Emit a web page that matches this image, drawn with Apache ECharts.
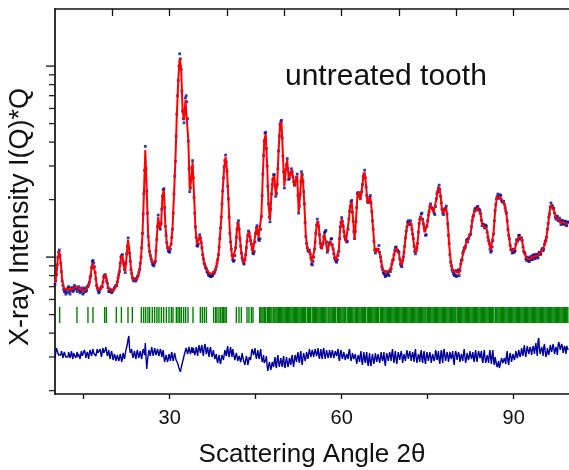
<!DOCTYPE html>
<html>
<head>
<meta charset="utf-8">
<script src="https://cdn.jsdelivr.net/npm/echarts@6/dist/echarts.min.js"></script>
<style>html,body{margin:0;padding:0;background:#fff}#c{width:569px;height:470px}</style>
</head>
<body>
<div id="c"></div>
<script>
// 2-theta grid of the pattern (degrees)
const angleStart = 10;
const angleStep = 0.25;

// calculated profile (red line), one row per degree
const calcValues = [
0.731,0.805,0.988,1.075,
0.94,0.758,0.697,0.68,
0.68,0.68,0.676,0.676,
0.68,0.689,0.697,0.70,
0.693,0.68,0.672,0.668,
0.668,0.672,0.68,0.697,
0.731,0.815,0.93,0.94,
0.835,0.722,0.68,0.672,
0.68,0.714,0.777,0.815,
0.767,0.697,0.672,0.664,
0.664,0.672,0.689,0.722,
0.767,0.855,0.988,1.02,
0.90,0.845,1.02,1.23,
1.06,0.876,0.786,0.758,
0.758,0.767,0.796,0.855,
0.988,1.30,2.11,3.63,
2.24,1.30,1.06,0.988,
0.94,0.92,0.94,1.26,
1.62,1.42,1.47,2.11,
2.24,1.47,1.18,1.09,
1.075,1.16,1.42,2.11,
3.22,5.54,8.45,11.0,
9.77,5.88,5.21,6.64,
6.64,4.10,2.24,2.53,
3.14,2.11,1.42,1.17,
1.16,1.29,1.20,1.05,
0.94,0.90,0.865,0.835,
0.825,0.815,0.815,0.835,
0.865,0.92,1.02,1.26,
1.60,2.24,2.93,3.34,
2.85,1.99,1.35,1.09,
0.976,0.953,1.11,1.42,
1.52,1.26,1.06,0.965,
0.93,1.02,1.23,1.35,
1.29,1.16,1.06,1.06,
1.35,1.44,1.26,1.23,
1.66,2.69,4.10,4.40,
3.03,1.87,1.56,2.11,
2.59,2.66,2.11,2.38,
3.63,4.91,5.09,3.42,
2.35,2.85,3.22,2.59,
2.66,2.85,2.66,2.35,
2.53,2.66,1.72,2.11,
2.75,2.53,1.87,1.30,
1.11,1.09,1.06,0.94,
0.93,1.09,1.35,1.54,
1.47,1.20,1.10,1.20,
1.32,1.35,1.075,1.14,
1.21,1.23,1.11,1.01,
0.965,0.953,1.09,1.42,
1.58,1.47,1.30,1.21,
1.23,1.56,1.87,1.94,
1.56,1.23,1.56,2.11,
2.19,1.99,2.24,2.59,
2.78,2.38,1.92,1.99,
2.06,1.76,1.38,1.11,
1.06,1.11,1.13,1.02,
0.908,0.855,0.835,0.835,
0.835,0.835,0.855,0.908,
0.988,1.06,1.11,1.11,
1.04,0.94,0.908,0.988,
1.16,1.35,1.49,1.52,
1.52,1.42,1.23,1.09,
1.06,1.20,1.47,1.64,
1.66,1.52,1.35,1.34,
1.52,1.76,1.87,1.83,
1.72,1.70,1.99,2.24,
2.32,2.11,1.76,1.70,
1.76,1.81,1.52,1.16,
0.965,0.876,0.845,0.835,
0.835,0.825,0.825,0.90,
0.988,1.06,1.13,1.20,
1.23,1.26,1.34,1.52,
1.68,1.76,1.79,1.81,
1.81,1.66,1.49,1.45,
1.45,1.42,1.30,1.16,
1.09,1.11,1.35,1.72,
1.99,2.09,2.09,2.04,
1.99,1.92,1.85,1.66,
1.42,1.23,1.11,1.075,
1.075,1.11,1.20,1.26,
1.27,1.27,1.20,1.09,
1.02,0.988,0.976,0.976,
0.988,1.00,1.01,1.01,
1.01,1.02,1.04,1.06,
1.09,1.13,1.18,1.30,
1.47,1.72,1.87,1.90,
1.76,1.66,1.60,1.60,
1.56,1.52,1.52,1.52,
1.51,1.49,1.49
];

// observed intensities on the grid points (navy points)
const obsValues = [
0.72,0.81,1.00,1.09,
0.93,0.75,0.68,0.66,
0.67,0.69,0.66,0.67,
0.69,0.67,0.70,0.69,
0.68,0.67,0.66,0.67,
0.65,0.68,0.67,0.70,
0.74,0.80,0.95,0.93,
0.83,0.71,0.67,0.66,
0.69,0.70,0.79,0.81,
0.75,0.69,0.66,0.67,
0.66,0.68,0.70,0.71,
0.78,0.84,1.00,1.03,
0.92,0.83,1.04,1.26,
1.05,0.86,0.78,0.75,
0.76,0.77,0.80,0.86,
1.00,1.33,2.15,3.80,
2.22,1.28,1.07,0.98,
0.92,0.90,0.95,1.24,
1.66,1.43,1.50,2.08,
2.28,1.45,1.19,1.08,
1.06,1.17,1.40,2.14,
3.18,5.60,8.40,11.6,
9.60,5.80,5.05,6.80,
6.50,4.05,2.20,2.60,
3.20,2.05,1.44,1.15,
1.17,1.31,1.19,1.03,
0.93,0.88,0.84,0.81,
0.80,0.79,0.80,0.82,
0.86,0.93,1.03,1.25,
1.62,2.22,2.97,3.42,
2.82,2.02,1.33,1.10,
0.97,0.96,1.12,1.40,
1.55,1.25,1.05,0.96,
0.92,1.03,1.21,1.37,
1.28,1.17,1.05,1.07,
1.33,1.46,1.24,1.25,
1.63,2.72,4.05,4.50,
3.00,1.90,1.53,2.14,
2.55,2.70,2.08,2.40,
3.60,4.95,5.20,3.38,
2.30,2.88,3.28,2.55,
2.70,2.90,2.62,2.38,
2.50,2.72,1.70,2.14,
2.80,2.48,1.90,1.28,
1.12,1.07,1.04,0.92,
0.95,1.10,1.33,1.58,
1.45,1.18,1.12,1.18,
1.34,1.38,1.06,1.16,
1.19,1.25,1.10,0.99,
0.95,0.97,1.07,1.44,
1.61,1.45,1.28,1.23,
1.21,1.58,1.84,1.98,
1.54,1.25,1.53,2.15,
2.16,2.03,2.20,2.64,
2.85,2.33,1.95,1.96,
2.10,1.73,1.40,1.09,
1.08,1.09,1.15,1.00,
0.89,0.83,0.81,0.80,
0.82,0.80,0.84,0.92,
0.97,1.08,1.13,1.09,
1.06,0.92,0.89,1.00,
1.14,1.37,1.52,1.50,
1.55,1.40,1.25,1.07,
1.08,1.18,1.50,1.62,
1.70,1.49,1.37,1.31,
1.55,1.73,1.90,1.80,
1.75,1.67,2.02,2.20,
2.38,2.08,1.78,1.67,
1.79,1.85,1.49,1.18,
0.94,0.86,0.82,0.81,
0.79,0.84,0.80,0.92,
0.97,1.08,1.11,1.22,
1.20,1.29,1.32,1.55,
1.65,1.79,1.76,1.84,
1.78,1.69,1.46,1.48,
1.42,1.45,1.27,1.18,
1.06,1.13,1.32,1.75,
2.02,2.14,2.06,2.10,
1.95,1.96,1.81,1.70,
1.39,1.25,1.09,1.05,
1.10,1.08,1.23,1.23,
1.30,1.24,1.22,1.07,
1.04,0.96,0.99,0.95,
1.01,0.97,1.03,0.98,
1.03,0.99,1.06,1.04,
1.11,1.10,1.21,1.27,
1.50,1.68,1.92,1.86,
1.80,1.62,1.64,1.56,
1.60,1.48,1.55,1.49,
1.54,1.46,1.52
];

// observed intensities half-way between the grid points
const obsMidValues = [
0.75,0.91,1.06,1.02,
0.84,0.71,0.66,0.64,
0.65,0.70,0.64,0.69,
0.66,0.71,0.68,0.66,
0.70,0.65,0.69,0.64,
0.69,0.66,0.70,0.72,
0.78,0.88,0.96,0.89,
0.77,0.69,0.65,0.68,
0.70,0.74,0.80,0.78,
0.73,0.66,0.68,0.65,
0.67,0.69,0.71,0.74,
0.81,0.93,1.02,0.95,
0.86,0.93,1.14,1.12,
0.95,0.82,0.76,0.77,
0.75,0.79,0.83,0.93,
1.12,1.68,2.85,2.90,
1.70,1.15,1.02,0.95,
0.91,0.93,1.08,1.45,
1.50,1.40,1.78,2.25,
1.82,1.30,1.12,1.07,
1.10,1.27,1.70,2.65,
4.30,7.00,10.0,10.9,
7.40,5.30,5.90,7.00,
5.30,2.90,2.30,2.95,
2.60,1.70,1.27,1.14,
1.24,1.26,1.12,0.98,
0.91,0.87,0.83,0.80,
0.79,0.80,0.83,0.84,
0.89,0.97,1.13,1.42,
1.90,2.60,3.20,3.15,
2.35,1.62,1.20,1.02,
0.95,1.02,1.27,1.50,
1.40,1.14,0.99,0.93,
0.97,1.12,1.30,1.34,
1.22,1.10,1.04,1.20,
1.42,1.33,1.22,1.40,
2.10,3.40,4.45,3.70,
2.35,1.62,1.78,2.40,
2.70,2.35,2.15,2.90,
4.30,5.10,4.20,2.80,
2.55,3.05,2.90,2.58,
2.78,2.80,2.48,2.40,
2.62,2.10,1.85,2.48,
2.70,2.20,1.52,1.18,
1.08,1.09,0.99,0.91,
1.00,1.20,1.47,1.52,
1.31,1.13,1.16,1.28,
1.36,1.20,1.09,1.19,
1.24,1.16,1.04,0.97,
0.94,1.02,1.25,1.52,
1.54,1.36,1.24,1.20,
1.40,1.74,1.95,1.72,
1.36,1.36,1.82,2.18,
2.08,2.12,2.40,2.72,
2.60,2.10,1.93,2.05,
1.92,1.55,1.21,1.05,
1.10,1.10,1.06,0.95,
0.86,0.82,0.79,0.84,
0.81,0.85,0.87,0.96,
1.03,1.12,1.08,1.07,
0.98,0.90,0.96,1.06,
1.26,1.44,1.55,1.48,
1.48,1.32,1.14,1.04,
1.12,1.35,1.58,1.68,
1.58,1.42,1.30,1.45,
1.66,1.84,1.82,1.79,
1.70,1.84,2.15,2.30,
2.26,1.92,1.70,1.76,
1.80,1.68,1.30,1.03,
0.90,0.84,0.80,0.85,
0.80,0.86,0.85,0.96,
1.05,1.12,1.14,1.24,
1.25,1.31,1.44,1.62,
1.74,1.80,1.83,1.78,
1.75,1.56,1.49,1.43,
1.47,1.35,1.22,1.10,
1.08,1.22,1.55,1.88,
2.08,2.03,2.12,1.98,
1.94,1.89,1.74,1.55,
1.30,1.15,1.10,1.06,
1.06,1.17,1.21,1.30,
1.25,1.26,1.13,1.06,
0.98,1.00,0.95,0.99,
0.97,1.02,0.99,1.03,
1.00,1.05,1.03,1.09,
1.08,1.17,1.22,1.40,
1.62,1.83,1.85,1.80,
1.70,1.58,1.63,1.55,
1.53,1.56,1.49,1.54,
1.47,1.53
];

// difference curve (obs - calc) on the grid points, offset panel units
const diffValues = [
-5,5,3,-1,
-2,-1,-3,0,
-2,-4,-1,-2,
-3,0,-1,-2,
-4,-2,-1,-3,
-2,0,-3,-2,
0,1,-1,0,
2,-1,0,1,
-1,2,0,3,
1,-2,-3,-1,
-2,-5,-4,-6,
-3,-5,-4,-6,
-3,-1,6,14,
5,1,-2,-1,
-3,0,-2,-1,
-3,0,1,10,
-16,-2,0,2,
1,-2,3,0,
2,-3,1,-2,
-5,-7,-3,-6,
-4,-2,-5,-3,
-4,-8,-12,-17,
-15,-10,-4,2,
3,1,4,2,
0,3,1,2,
4,3,5,1,
4,6,2,0,
3,1,-1,-2,
-4,-7,-5,-8,
-6,-3,-2,1,
3,-1,2,0,
4,-2,-5,-3,
-8,-4,-6,-2,
-8,-12,-6,-9,
-3,0,2,1,
-2,-1,-3,0,
-4,-6,-10,-7,
-13,-17,-12,-14,
-10,-8,-12,-6,
-9,-13,-10,-7,
-12,-9,-6,-11,
-8,-5,-10,-7,
-4,-3,-6,-2,
-8,-4,-1,-5,
-2,-1,2,-3,
1,-2,3,0,
-2,0,-3,2,
-1,-4,1,-2,
0,-3,1,-2,
2,-1,-5,0,
-2,-4,-1,-6,
-2,1,-3,-5,
-1,-7,-3,-9,
-5,-2,-8,-4,
-6,-3,-9,-5,
-10,-6,-2,-7,
-4,-8,-3,-6,
-1,-5,-9,-4,
-2,-6,-3,0,
-5,-2,-7,-4,
-1,-5,-2,-8,
-3,-6,1,-4,
-2,-7,-3,0,
-5,-9,-4,-1,
-6,-2,-7,-4,
-1,-6,-3,-8,
-2,-5,0,-4,
-7,-2,-5,1,
-3,-6,-2,-5,
0,-4,-8,-3,
-1,-5,-2,-7,
-3,0,-4,-6,
-2,-4,0,-3,
-6,-1,-5,-2,
1,-3,-7,-2,
-5,-9,-4,-1,
-6,-2,-8,-4,
-11,-13,-15,-9,
-4,-11,-6,-2,
-8,-5,-3,-7,
-1,-4,0,-2,
3,-1,1,4,
0,2,5,1,
3,-1,4,6,
2,12,4,0,
3,6,1,-1,
4,2,7,3,
5,1,3,8,
9,3,6,2,
4,7,3
];

// difference curve half-way between the grid points
const diffMidValues = [
0,6,-2,-4,
2,-5,1,-4,
-6,1,-5,2,
-6,2,-5,1,
-1,-6,2,-5,
3,-5,1,-6,
3,-3,4,-2,
-3,4,-2,4,
-4,5,-2,6,
-3,3,-6,2,
-7,-1,-8,-2,
-8,-1,-9,0,
-6,3,9,17,
0,4,-5,2,
-6,3,-5,2,
-6,4,-2,12,
-8,3,-3,6,
-3,5,-2,4,
-3,4,-4,3,
-9,-2,-9,-1,
-8,1,-8,0,
-7,-10,-15,-19,
-12,-6,0,5,
-1,6,-1,6,
5,-2,6,-3,
8,0,8,-3,
9,-1,6,-4,
6,-4,3,-6,
-1,-10,-2,-11,
-2,-7,3,-3,
7,-4,6,-4,
0,-7,0,-8,
-3,-9,0,-7,
-12,-3,-12,-4,
-7,4,-2,5,
-6,3,-6,4,
-9,-2,-12,-3,
-18,-9,-17,-9,
-14,-4,-15,-2,
-14,-5,-14,-3,
-15,-4,-14,-5,
-12,-2,-14,-2,
-9,1,-10,2,
-12,0,-8,1,
-6,4,-4,3,
-4,4,-3,5,
-6,4,-6,5,
-6,3,-5,3,
-5,3,-5,2,
-3,4,-8,3,
-6,1,-7,-1,
-6,4,-8,0,
-6,-1,-11,-2,
-9,2,-12,1,
-10,1,-13,0,
-13,-1,-11,0,
-9,-1,-10,1,
-8,1,-13,0,
-8,1,-8,4,
-10,2,-11,1,
-7,2,-10,-1,
-8,3,-6,2,
-8,1,-9,4,
-10,-1,-9,3,
-10,2,-11,1,
-8,1,-10,-1,
-8,3,-7,2,
-11,3,-10,4,
-8,1,-9,1,
-6,2,-12,2,
-7,1,-9,-1,
-8,4,-10,0,
-7,2,-6,1,
-9,3,-9,2,
-5,2,-10,3,
-10,-2,-10,3,
-11,3,-12,-2,
-14,-8,-17,-5,
-10,-5,-11,2,
-12,0,-9,-1,
-7,2,-5,3,
-4,5,-3,8,
-4,7,-1,6,
-2,7,-1,10,
-3,15,-1,6,
-3,9,-4,5,
-2,8,1,9,
-1,6,-2,11,
3,9,0,7,
-1,9
];

// Bragg reflection positions (green tick marks), degrees
const reflections = [
10.81,13.83,15.75,16.62,18.66,18.96,20.70,21.58,22.73,23.49,
25.06,25.46,25.81,26.21,26.51,26.97,27.38,27.78,28.13,28.55,28.95,29.42,29.88,
30.29,30.58,31.16,31.45,31.74,32.03,32.44,32.79,33.20,34.07,
35.35,35.70,36.05,36.40,37.67,38.02,38.25,38.60,38.90,39.19,39.42,39.65,39.89,
41.63,42.09,42.50,43.49,43.83,44.25,44.53,
45.70,45.90,46.10,46.30,46.55,46.75,47.05,47.25,47.45,47.65,47.85,48.15,48.35,48.55,48.75,48.95,
49.15,49.35,49.55,49.75,49.95,50.15,50.35,50.55,50.75,50.95,51.15,51.35,51.55,51.75,51.95,
52.15,52.35,52.55,52.75,52.95,53.15,53.35,53.55,53.70,54.00,54.20,54.40,54.55,54.85,55.05,
55.25,55.45,55.65,55.85,56.05,56.25,56.45,56.65,56.85,57.05,57.25,57.45,57.75,57.95,58.15,
58.35,58.55,58.75,58.95,59.25,59.45,59.65,59.85,60.05,60.25,60.45,60.65,60.95,61.15,61.35,
61.55,61.75,61.95,62.15,62.40,62.60,62.80,63.00,63.20,63.40,63.60,63.80,64.00,64.15,64.45,
64.65,64.85,65.05,65.25,65.45,65.65,65.85,66.05,66.25,66.45,66.75,66.95,67.15,67.35,67.55,
67.75,67.95,68.15,68.35,68.55,68.75,68.95,69.15,69.35,69.55,69.75,69.95,70.15,70.35,70.55,
70.75,70.95,71.15,71.35,71.55,71.75,71.95,72.15,72.35,72.55,72.75,72.95,73.15,73.35,73.55,
73.75,73.95,74.15,74.35,74.55,74.70,74.95,75.15,75.35,75.55,75.75,75.95,76.15,76.35,76.55,
76.75,76.95,77.15,77.35,77.55,77.75,77.95,78.15,78.35,78.55,78.75,78.95,79.15,79.35,79.55,
79.75,79.90,80.15,80.35,80.55,80.75,80.95,81.15,81.35,81.55,81.75,81.95,82.15,82.35,82.55,
82.75,82.95,83.15,83.35,83.55,83.75,83.95,84.15,84.35,84.55,84.75,84.95,85.15,85.35,85.55,
85.75,85.95,86.15,86.35,86.55,86.85,87.05,87.25,87.45,87.65,87.85,88.05,88.25,88.45,88.65,
88.85,89.05,89.25,89.45,89.65,89.85,90.05,90.25,90.45,90.65,90.85,91.05,91.25,91.45,91.65,
91.85,92.05,92.25,92.45,92.65,92.85,93.05,93.25,93.45,93.65,93.85,94.05,94.25,94.45,94.65,
94.85,95.05,95.25,95.45,95.65,95.85,96.05,96.25,96.45,96.65,96.85,97.05,97.25,97.45,97.65,
97.85,98.05,98.25,98.45,98.65,98.85,99.05,99.25,99.45
];

// axis ticks
const xTickValues = [15, 30, 45, 60, 75, 90];
const xLabelValues = [30, 60, 90];
const topTickValues = [20, 30, 40, 50, 60, 70, 80, 90];
const yMajorTicks = [1, 10];
const yMinorTicks = [0.2,0.3,0.4,0.5,0.6,0.7,0.8,0.9,2,3,4,5,6,7,8,9];

const FONT = "Arial, 'Liberation Sans', sans-serif";
const X_MIN = 10, X_MAX = 99.65;
const Y_MIN = 0.192, Y_MAX = 19.9;

const angles = calcValues.map((_, i) => angleStart + i * angleStep);
const midAngles = obsMidValues.map((_, i) => angleStart + angleStep / 2 + i * angleStep);
const calcData = angles.map((a, i) => [a, calcValues[i]]);
const obsData = angles.map((a, i) => [a, obsValues[i]])
  .concat(midAngles.map((a, i) => [a, obsMidValues[i]]));
const diffData = [];
angles.forEach((a, i) => {
  diffData.push([a, diffValues[i]]);
  if (i < diffMidValues.length) diffData.push([midAngles[i], diffMidValues[i]]);
});

const chart = echarts.init(document.getElementById('c'), null, {renderer: 'canvas'});
chart.setOption({
  animation: false,
  backgroundColor: '#fff',
  grid: {left: 55, right: 0, top: 9, bottom: 76},
  xAxis: [{
    type: 'value', min: X_MIN, max: X_MAX, position: 'bottom',
    axisLine: {onZero: false, lineStyle: {color: '#111', width: 1.5}},
    axisTick: {customValues: xTickValues, length: 5, lineStyle: {color: '#111', width: 1.3}},
    axisLabel: {customValues: xLabelValues, fontSize: 20, color: '#111', fontFamily: FONT, margin: 14},
    splitLine: {show: false}
  }, {
    type: 'value', min: X_MIN, max: X_MAX, position: 'top',
    axisLine: {onZero: false, lineStyle: {color: '#111', width: 1.5}},
    axisTick: {customValues: topTickValues, inside: true, length: 7, lineStyle: {color: '#111', width: 1.3}},
    axisLabel: {show: false},
    splitLine: {show: false}
  }],
  yAxis: [{
    type: 'log', min: Y_MIN, max: Y_MAX, logBase: 10,
    axisLine: {show: true, onZero: false, lineStyle: {color: '#333', width: 2}},
    axisTick: {show: false}, axisLabel: {show: false}, splitLine: {show: false}
  }, {
    type: 'value', min: -41, max: 344, show: false, splitLine: {show: false}
  }],
  series: [
    {
      name: 'observed', type: 'scatter', xAxisIndex: 0, yAxisIndex: 0, data: obsData,
      symbol: 'rect', symbolSize: 2.8, itemStyle: {color: '#0a0a8c'}, z: 2, silent: true
    },
    {
      name: 'calculated', type: 'line', xAxisIndex: 0, yAxisIndex: 0, data: calcData,
      showSymbol: false, lineStyle: {color: '#ff0000', width: 2}, z: 3, silent: true
    },
    {
      name: 'difference', type: 'line', xAxisIndex: 0, yAxisIndex: 1, data: diffData,
      showSymbol: false, lineStyle: {color: '#00009c', width: 1.4}, z: 3, silent: true
    },
    {
      name: 'reflections', type: 'custom', xAxisIndex: 0, yAxisIndex: 1,
      data: reflections.map(r => [r]), silent: true, z: 2,
      renderItem: function (params, api) {
        const a = api.coord([api.value(0), 30]);
        const b = api.coord([api.value(0), 46]);
        return {type: 'line', shape: {x1: a[0], y1: a[1], x2: b[0], y2: b[1]},
                style: {stroke: '#008000', lineWidth: 1.4}};
      }
    }
  ]
});

// y-axis ticks (log scale) placed through the chart's own scale
const tickEls = [];
yMajorTicks.forEach(v => {
  const p = chart.convertToPixel({xAxisIndex: 0, yAxisIndex: 0}, [X_MIN, v]);
  tickEls.push({type: 'line', silent: true, z: 10, shape: {x1: p[0] - 9, y1: p[1], x2: p[0], y2: p[1]}, style: {stroke: '#222', lineWidth: 1.4}});
});
yMinorTicks.forEach(v => {
  const p = chart.convertToPixel({xAxisIndex: 0, yAxisIndex: 0}, [X_MIN, v]);
  tickEls.push({type: 'line', silent: true, z: 10, shape: {x1: p[0] - 6, y1: p[1], x2: p[0], y2: p[1]}, style: {stroke: '#222', lineWidth: 1.3}});
});

chart.setOption({
  graphic: {elements: [
    {type: 'text', x: 285, y: 77, style: {text: 'untreated tooth', font: '30px ' + FONT, fill: '#111', align: 'left', verticalAlign: 'middle'}},
    {type: 'text', x: 312, y: 455, style: {text: 'Scattering Angle 2θ', font: '26px ' + FONT, fill: '#111', align: 'center', verticalAlign: 'middle'}},
    {type: 'text', x: 21, y: 217, rotation: Math.PI / 2, style: {text: 'X-ray Intensity I(Q)*Q', font: '27px ' + FONT, fill: '#111', align: 'center', verticalAlign: 'middle'}}
  ].concat(tickEls)}
});
</script>
</body>
</html>
